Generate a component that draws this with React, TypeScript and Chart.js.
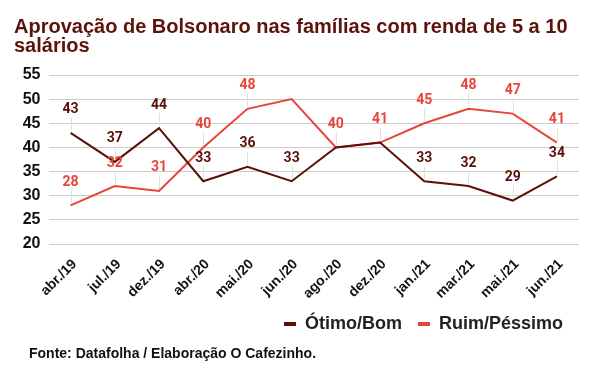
import React, { useEffect, useRef } from 'react';
import { Chart, registerables } from 'chart.js';

Chart.register(...registerables);

const categories = ['abr./19', 'jul./19', 'dez./19', 'abr./20', 'mai./20', 'jun./20', 'ago./20', 'dez./20', 'jan./21', 'mar./21', 'mai./21', 'jun./21'];
const otimoBom = [43, 37, 44, 33, 36, 33, 40, 41, 33, 32, 29, 34];
const ruimPessimo = [28, 32, 31, 40, 48, 50, 40, 41, 45, 48, 47, 41];
const otimoBomShowLabel = [true, true, true, true, true, true, false, false, true, true, true, true];
const ruimPessimoShowLabel = [true, true, true, true, true, false, true, true, true, true, true, true];
const yMin = 20;
const yMax = 55;
const yStep = 5;

const titleLines = ['Aprovação de Bolsonaro nas famílias com renda de 5 a 10', 'salários'];
const footerText = 'Fonte: Datafolha / Elaboração O Cafezinho.';

const COLOR_OTIMO = '#5c1008';
const COLOR_RUIM = '#e8453a';
const COLOR_TITLE = '#5c1309';
const FONT = '"Liberation Sans", Arial, sans-serif';

const showFlags = [otimoBomShowLabel, ruimPessimoShowLabel];

const leaderPlugin = {
  id: 'leaders',
  beforeDatasetsDraw(chart: any) {
    const ctx = chart.ctx;
    chart.data.datasets.forEach((ds: any, di: number) => {
      const meta = chart.getDatasetMeta(di);
      meta.data.forEach((pt: any, i: number) => {
        if (!showFlags[di][i]) return;
        const x = Math.round(pt.x) + 0.5;
        ctx.save();
        ctx.strokeStyle = '#e0e0e0';
        ctx.lineWidth = 1;
        ctx.beginPath();
        ctx.moveTo(x, pt.y - 15);
        ctx.lineTo(x, pt.y - 2);
        ctx.stroke();
        ctx.restore();
      });
    });
  },
  afterDatasetsDraw(chart: any) {
    const ctx = chart.ctx;
    chart.data.datasets.forEach((ds: any, di: number) => {
      const meta = chart.getDatasetMeta(di);
      meta.data.forEach((pt: any, i: number) => {
        if (!showFlags[di][i]) return;
        ctx.save();
        ctx.font = 'bold 14px Roboto, sans-serif';
        ctx.fillStyle = ds.borderColor;
        ctx.textAlign = 'center';
        ctx.textBaseline = 'middle';
        ctx.fillText(String(ds.data[i]), pt.x, pt.y - 23);
        ctx.restore();
      });
    });
  },
};

const textPlugin = {
  id: 'titleFooter',
  afterDraw(chart: any) {
    const ctx = chart.ctx;
    ctx.save();
    ctx.font = `bold 20px ${FONT}`;
    ctx.fillStyle = COLOR_TITLE;
    ctx.textAlign = 'left';
    ctx.textBaseline = 'alphabetic';
    ctx.fillText(titleLines[0], 14, 33);
    ctx.fillText(titleLines[1], 14, 52);
    ctx.font = `bold 14px ${FONT}`;
    ctx.fillStyle = '#111111';
    ctx.fillText(footerText, 29, 358);
    ctx.restore();
  },
};

export default function App() {
  const canvasRef = useRef<HTMLCanvasElement>(null);

  useEffect(() => {
    if (!canvasRef.current) return;
    const chart = new Chart(canvasRef.current, {
      type: 'line',
      data: {
        labels: categories,
        datasets: [
          {
            label: 'Ótimo/Bom',
            data: otimoBom,
            borderColor: COLOR_OTIMO,
            backgroundColor: COLOR_OTIMO,
            borderWidth: 2,
            pointRadius: 0,
            tension: 0,
          },
          {
            label: 'Ruim/Péssimo',
            data: ruimPessimo,
            borderColor: COLOR_RUIM,
            backgroundColor: COLOR_RUIM,
            borderWidth: 2,
            pointRadius: 0,
            tension: 0,
          },
        ],
      },
      options: {
        responsive: false,
        animation: false,
        layout: { padding: { top: 75, right: 11, bottom: 22, left: 0 } },
        plugins: {
          title: { display: false },
          tooltip: { enabled: false },
          legend: {
            display: true,
            position: 'bottom',
            align: 'end',
            labels: {
              boxWidth: 12,
              boxHeight: 4,
              padding: 16,
              color: '#222222',
              font: { family: FONT, size: 18, weight: 'bold' },
              generateLabels: (c: any) =>
                Chart.defaults.plugins.legend.labels.generateLabels(c).map((l: any) => ({ ...l, lineWidth: 0 })),
            },
          },
        },
        scales: {
          x: {
            offset: true,
            grid: { display: false },
            border: { display: false },
            ticks: {
              minRotation: 45,
              maxRotation: 45,
              padding: 4,
              labelOffset: 4,
              color: '#111111',
              font: { family: FONT, size: 14, weight: 'bold' },
            },
            afterFit: (s: any) => {
              s.height = 55;
            },
          },
          y: {
            min: yMin,
            max: yMax,
            grid: { color: '#cccccc', drawTicks: false },
            border: { display: false },
            ticks: {
              stepSize: yStep,
              autoSkip: false,
              padding: 8,
              color: '#111111',
              font: { family: FONT, size: 16, weight: 'bold' },
            },
            afterFit: (s: any) => {
              s.width = 48.5;
            },
          },
        },
      },
      plugins: [leaderPlugin, textPlugin],
    } as any);
    return () => chart.destroy();
  }, []);

  return (
    <div style={{ position: 'absolute', left: 0, top: 0, width: 590, height: 365, background: '#ffffff' }}>
      <canvas ref={canvasRef} width={590} height={365} />
    </div>
  );
}
